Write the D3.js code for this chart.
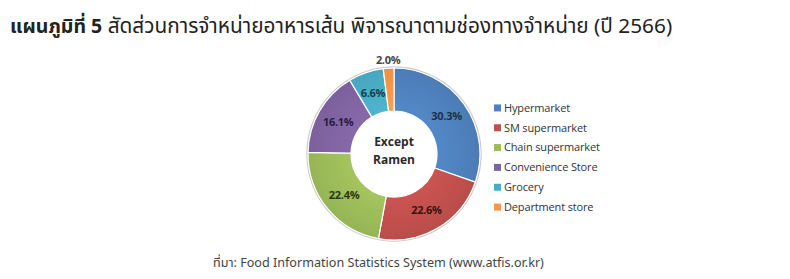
<!DOCTYPE html>
<html><head><meta charset="utf-8">
<script src="https://cdn.jsdelivr.net/npm/d3@7"></script>
<style>body{margin:0;background:#fff;}svg{display:block;}</style>
</head><body>
<svg id="c" width="790" height="279"></svg>
<script>
const categories = ["Hypermarket","SM supermarket","Chain supermarket","Convenience Store","Grocery","Department store"];
const values = [30.3,22.6,22.4,16.1,6.6,2.0];
const colors = ["#4F81BD","#C0504D","#9BBB59","#8064A2","#4BACC6","#F79646"];
const labelColors = ["#1c3050","#3d1212","#2a3812","#2a1c40","#173f4c","#444"];
const titleBold = "แผนภูมิที่ 5";
const titleRest = " สัดส่วนการจำหน่ายอาหารเส้น พิจารณาตามช่องทางจำหน่าย (ปี 2566)";
const centerLines = ["Except","Ramen"];
const source = "ที่มา: Food Information Statistics System (www.atfis.or.kr)";

const svg = d3.select("#c");
const thaiFont = "'Noto Sans Thai','Leelawadee UI',Tahoma,'Noto Sans',sans-serif";

const t = svg.append("text").attr("x",10).attr("y",33)
  .attr("font-family",thaiFont).attr("fill","#222");
t.append("tspan").attr("font-weight","bold").attr("font-size",19.5).text(titleBold);
t.append("tspan").attr("font-size",20.8).text(titleRest);

const cx = 394, cy = 154, rOut = 86, rIn = 43;
const g = svg.append("g").attr("transform",`translate(${cx},${cy})`);
const pie = d3.pie().sort(null).value(d=>d.v);
const data = pie(categories.map((c,i)=>({c, v:values[i], i})));
const arc = d3.arc().innerRadius(rIn).outerRadius(rOut);

const defs = svg.append("defs");
colors.forEach((c,i)=>{
  const gr = defs.append("radialGradient").attr("id","g"+i)
    .attr("gradientUnits","userSpaceOnUse").attr("cx",0).attr("cy",0).attr("r",rOut);
  gr.append("stop").attr("offset","50%").attr("stop-color",d3.color(c).brighter(0.15));
  gr.append("stop").attr("offset","100%").attr("stop-color",d3.color(c).darker(0.1));
});

g.append("circle").attr("r",rOut+1).attr("fill","none").attr("stroke","#ccc").attr("stroke-width",1.5);
g.selectAll("path.s").data(data).join("path").attr("class","s")
  .attr("d",arc).attr("fill",d=>`url(#g${d.data.i})`)
  .attr("stroke","#fff").attr("stroke-width",1.2);

const labArc = d3.arc().innerRadius(rIn).outerRadius(rOut);
const outArc = d3.arc().innerRadius(94).outerRadius(94);
g.selectAll("text.l").data(data).join("text").attr("class","l")
  .attr("transform",d=>{
    const p = d.data.v < 3 ? outArc.centroid(d) : labArc.centroid(d);
    return `translate(${p[0]},${p[1]})`;
  })
  .attr("text-anchor","middle").attr("dy","0.35em")
  .attr("font-family","'Open Sans',sans-serif").attr("font-weight","bold")
  .attr("font-size",11).attr("letter-spacing",-0.3)
  .attr("fill",d=>labelColors[d.data.i])
  .text(d=>d.data.v.toFixed(1)+"%");

g.selectAll("text.c").data(centerLines).join("text").attr("class","c")
  .attr("x",0).attr("y",(d,i)=>-8+i*18)
  .attr("text-anchor","middle")
  .attr("font-family","'Open Sans',sans-serif").attr("font-weight","bold")
  .attr("font-size",12).attr("fill","#2a2a2a").text(d=>d);

const y = d3.scaleBand().domain(categories).range([98,217]);
const lg = svg.append("g");
const items = lg.selectAll("g").data(categories).join("g")
  .attr("transform",d=>`translate(494,${y(d)+y.bandwidth()/2})`);
items.append("rect").attr("x",0).attr("y",-3.5).attr("width",7).attr("height",7)
  .attr("fill",(d,i)=>colors[i]);
items.append("text").attr("x",10).attr("dy","0.35em")
  .attr("font-family","'Open Sans',sans-serif").attr("font-size",11)
  .attr("letter-spacing",-0.15).attr("fill","#333").text(d=>d);

svg.append("text").attr("x",213).attr("y",267)
  .attr("font-family",thaiFont).attr("font-size",12.6).attr("fill","#444").text(source);
</script>
</body></html>
